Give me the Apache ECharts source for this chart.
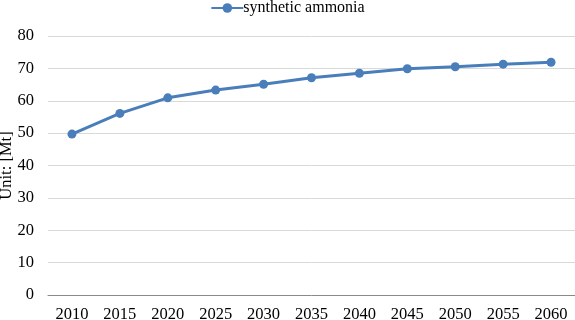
<!DOCTYPE html>
<html>
<head>
<meta charset="utf-8">
<script src="https://cdn.jsdelivr.net/npm/echarts@6/dist/echarts.min.js"></script>
<style>
	html, body { margin: 0; padding: 0; background: #fff; }
	#chart { width: 575px; height: 320px; }
</style>
</head>
<body>
<div id="chart"></div>
<script>
	let years = ['2010', '2015', '2020', '2025', '2030', '2035', '2040', '2045', '2050', '2055', '2060'];
	let ammonia = [49.7, 56.1, 60.9, 63.3, 65.1, 67.1, 68.5, 69.9, 70.5, 71.3, 71.9];
	let seriesName = 'synthetic ammonia';

	let chart = echarts.init(document.getElementById('chart'));
	let font = '"Liberation Serif", "Times New Roman", serif';
	chart.setOption({
		animation: false,
		textStyle: { fontFamily: font },
		legend: {
			top: -5,
			left: 'center',
			itemWidth: 32,
			itemHeight: 12,
			itemGap: 4,
			textStyle: { fontFamily: font, fontSize: 16, color: '#000', padding: [0, 0, 0, -5] },
			data: [seriesName]
		},
		grid: {
			left: 48,
			right: 0,
			top: 36,
			bottom: 25,
			containLabel: false,
			outerBoundsMode: 'none'
		},
		xAxis: {
			type: 'category',
			data: years,
			boundaryGap: true,
			axisLine: { lineStyle: { color: '#898989', width: 1 } },
			axisTick: { show: false },
			axisLabel: { fontFamily: font, fontSize: 16.5, color: '#000', margin: 11 }
		},
		yAxis: {
			type: 'value',
			min: 0,
			max: 80,
			interval: 10,
			name: 'Unit: [Mt]',
			nameLocation: 'middle',
			nameGap: 33,
			nameMoveOverlap: false,
			nameTextStyle: { fontFamily: font, fontSize: 16.5, color: '#000' },
			axisLine: { show: false },
			axisTick: { show: false },
			axisLabel: { fontFamily: font, fontSize: 16.5, color: '#000', margin: 14 },
			splitLine: { lineStyle: { color: '#d9d9d9', width: 1 } }
		},
		series: [{
			name: seriesName,
			type: 'line',
			data: ammonia,
			symbol: 'circle',
			symbolSize: 9,
			lineStyle: { color: '#4a7ebb', width: 3 },
			itemStyle: { color: '#4a7ebb' }
		}]
	});
</script>
</body>
</html>
